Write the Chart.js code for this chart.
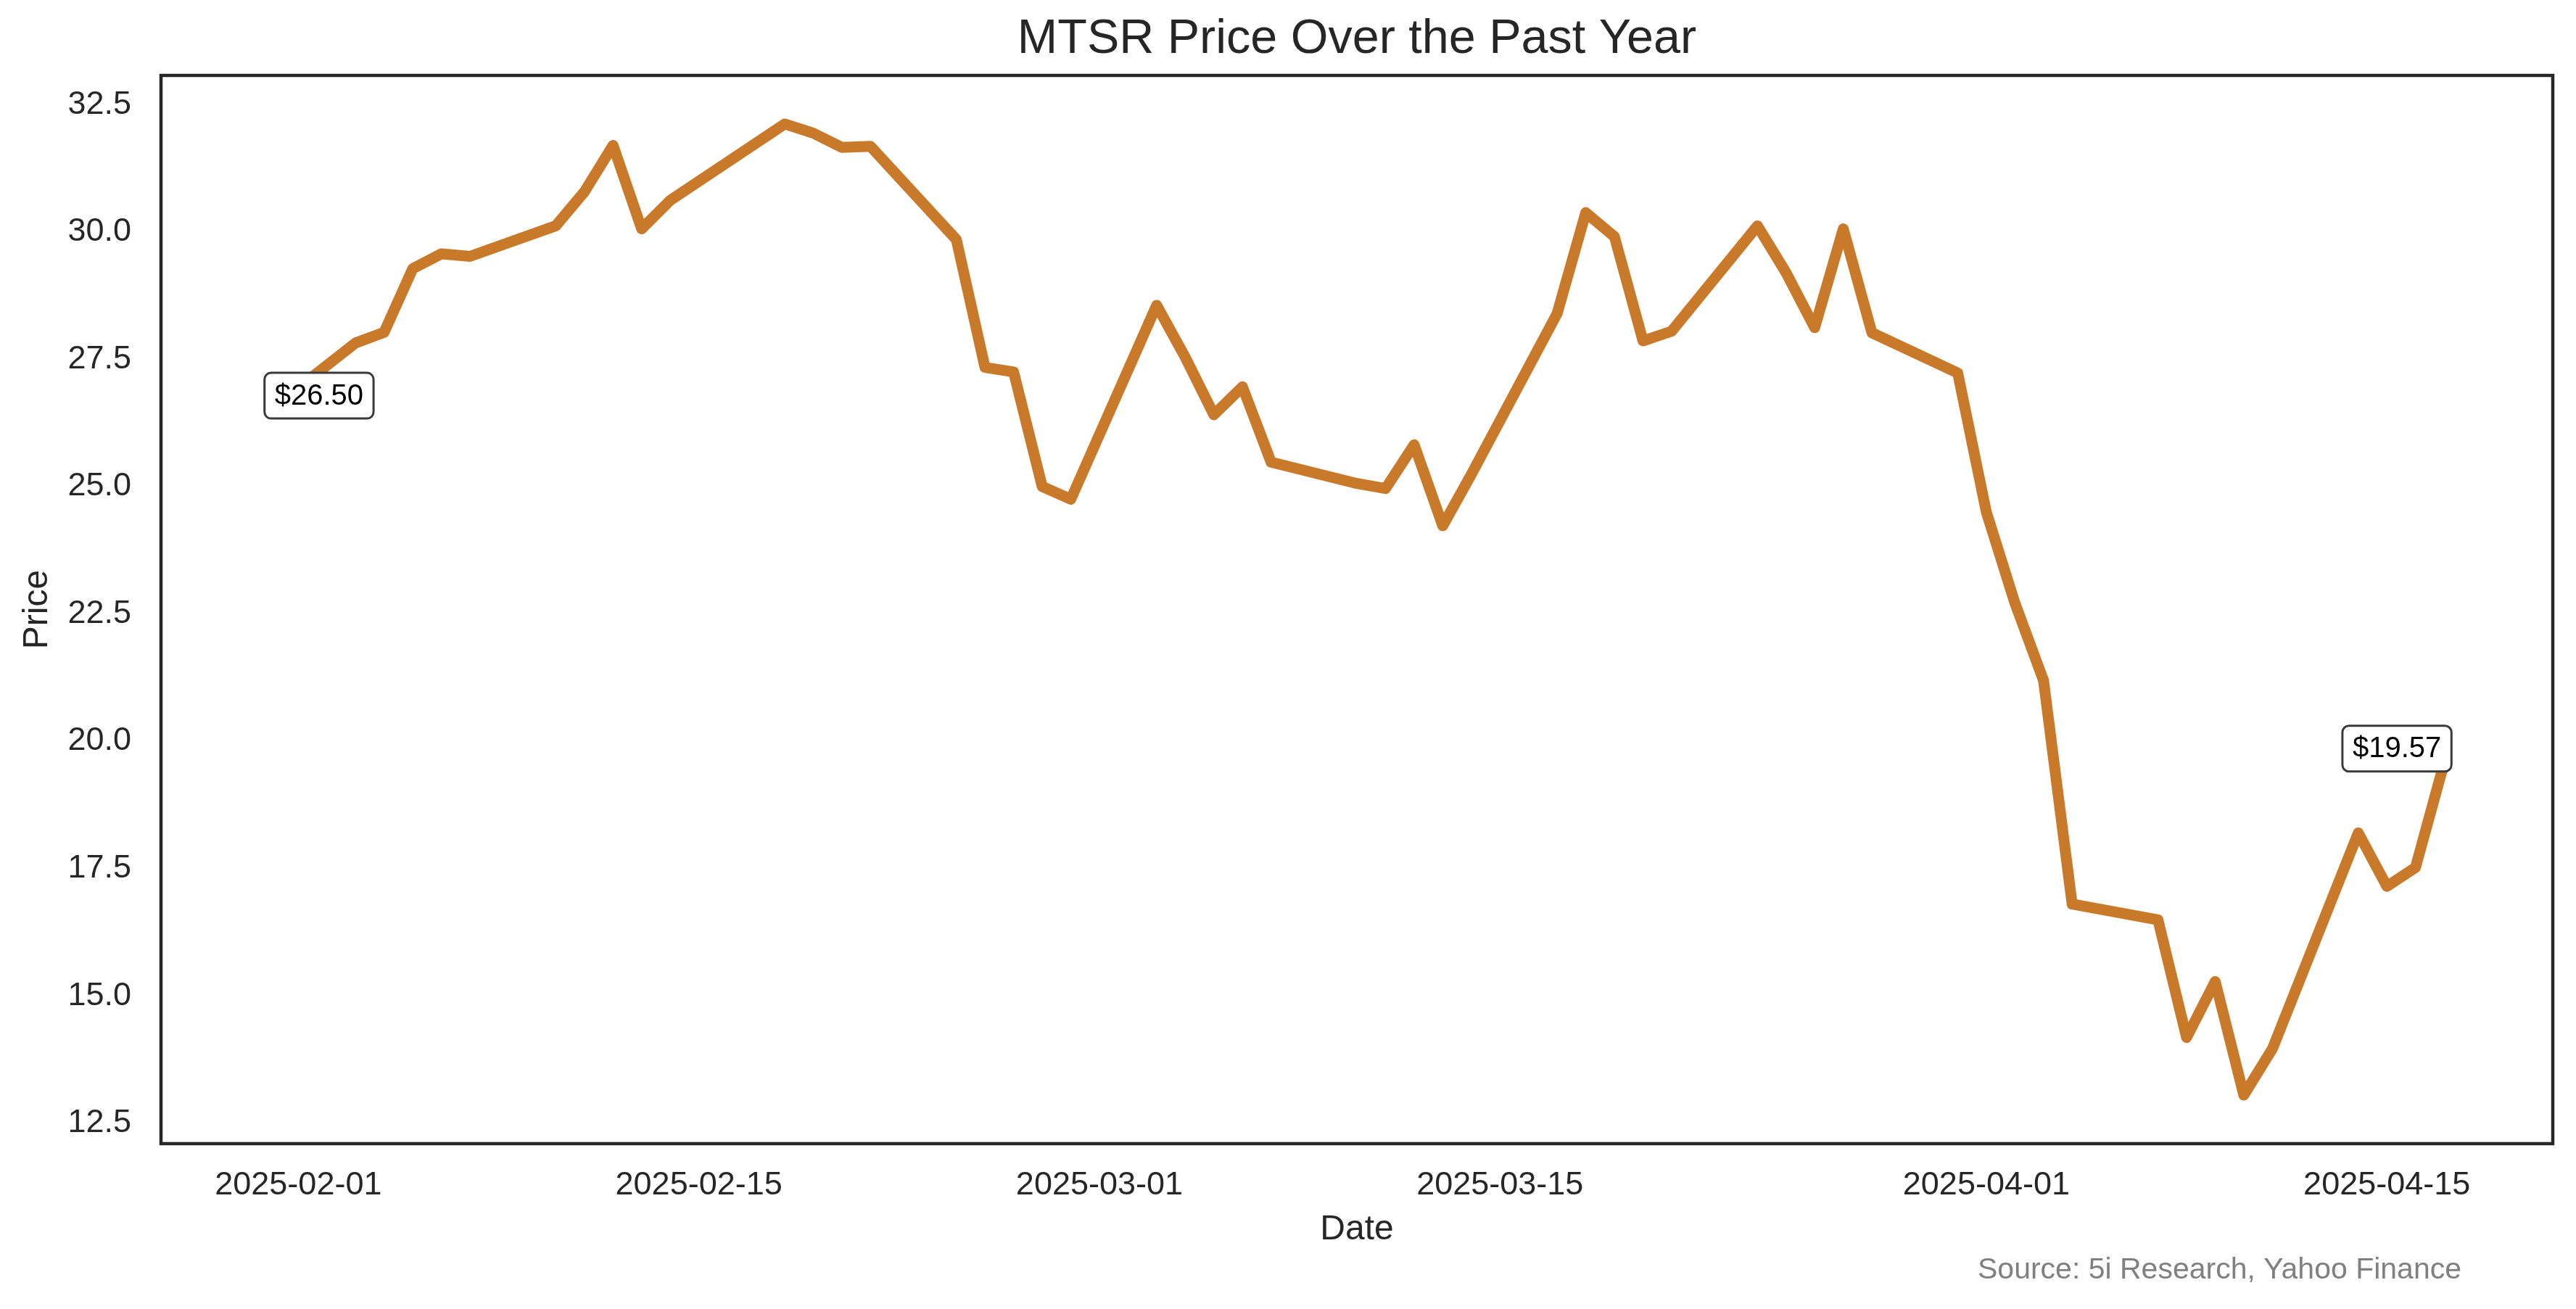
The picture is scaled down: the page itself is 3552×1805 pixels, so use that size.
<!DOCTYPE html>
<html>
<head>
<meta charset="utf-8">
<script src="https://cdn.jsdelivr.net/npm/chart.js@4/dist/chart.umd.min.js"></script>
<style>
  html, body { margin: 0; padding: 0; background: #ffffff; }
  canvas { display: block; }
</style>
</head>
<body>
<canvas id="c" width="3552" height="1805"></canvas>
<script>
// ---- Data ----
const dates = [
  '2025-01-31',
  '2025-02-03','2025-02-04','2025-02-05','2025-02-06','2025-02-07',
  '2025-02-10','2025-02-11','2025-02-12','2025-02-13','2025-02-14',
  '2025-02-18','2025-02-19','2025-02-20','2025-02-21',
  '2025-02-24','2025-02-25','2025-02-26','2025-02-27','2025-02-28',
  '2025-03-03','2025-03-04','2025-03-05','2025-03-06','2025-03-07',
  '2025-03-10','2025-03-11','2025-03-12','2025-03-13','2025-03-14',
  '2025-03-17','2025-03-18','2025-03-19','2025-03-20','2025-03-21',
  '2025-03-24','2025-03-25','2025-03-26','2025-03-27','2025-03-28',
  '2025-03-31',
  '2025-04-01','2025-04-02','2025-04-03','2025-04-04',
  '2025-04-07','2025-04-08','2025-04-09','2025-04-10','2025-04-11',
  '2025-04-14','2025-04-15','2025-04-16','2025-04-17'
];
const prices = [
  26.50,
  27.82, 28.03, 29.28, 29.57, 29.52,
  30.12, 30.79, 31.70, 30.06, 30.62,
  32.12, 31.94, 31.66, 31.68,
  29.85, 27.34, 27.25, 25.00, 24.75,
  28.56, 27.54, 26.41, 26.96, 25.48,
  25.06, 24.96, 25.82, 24.23, 25.24,
  28.40, 30.38, 29.91, 27.86, 28.05,
  30.12, 29.20, 28.12, 30.06, 28.02,
  27.23,
  24.50, 22.71, 21.19, 16.80,
  16.49, 14.18, 15.28, 13.05, 13.96,
  18.20, 17.15, 17.52, 19.57
];
const xTickLabels = ['2025-02-01','2025-02-15','2025-03-01','2025-03-15','2025-04-01','2025-04-15'];
const yTickValues = [12.5, 15.0, 17.5, 20.0, 22.5, 25.0, 27.5, 30.0, 32.5];
const titleText = 'MTSR Price Over the Past Year';
const xTitle = 'Date';
const yTitle = 'Price';
const sourceText = 'Source: 5i Research, Yahoo Finance';

// ---- helpers ----
const DAY = 86400000;
const BASE = Date.UTC(2025, 0, 1);
function toDay(s) {
  const [y, m, d] = s.split('-').map(Number);
  return (Date.UTC(y, m - 1, d) - BASE) / DAY;
}
function fromDay(n) {
  const d = new Date(BASE + Math.round(n) * DAY);
  const p = v => String(v).padStart(2, '0');
  return d.getUTCFullYear() + '-' + p(d.getUTCMonth() + 1) + '-' + p(d.getUTCDate());
}
const xs = dates.map(toDay);
const points = xs.map((x, i) => ({ x: x, y: prices[i] }));

// matplotlib-like 5% margins
const xMinD = Math.min(...xs), xMaxD = Math.max(...xs);
const yMinD = Math.min(...prices), yMaxD = Math.max(...prices);
const xPad = (xMaxD - xMinD) * 0.05, yPad = (yMaxD - yMinD) * 0.05;

const FONT = "'Liberation Sans', Arial, Helvetica, sans-serif";
const INK = '#262626';
Chart.defaults.font.family = FONT;
Chart.defaults.color = INK;

const framePlugin = {
  id: 'frameAndNotes',
  afterDatasetsDraw(chart) {
    const ctx = chart.ctx;
    const a = chart.chartArea;
    ctx.save();
    ctx.strokeStyle = INK;
    ctx.lineWidth = 4.5;
    ctx.strokeRect(a.left, a.top, a.right - a.left, a.bottom - a.top);
    ctx.restore();

    // price annotations at first and last point
    const xsc = chart.scales.x, ysc = chart.scales.y;
    const notes = [
      { i: 0, dx: 68 },
      { i: points.length - 1, dx: -65 }
    ];
    ctx.save();
    ctx.font = '40px ' + FONT;
    notes.forEach(n => {
      const p = points[n.i];
      const px = xsc.getPixelForValue(p.x);
      const py = ysc.getPixelForValue(p.y);
      const label = '$' + p.y.toFixed(2);
      const tw = ctx.measureText(label).width;
      const w = tw + 28, h = 63;
      const cx = px + n.dx, cy = py - 20;
      const bx = cx - w / 2, by = cy - h / 2;
      ctx.beginPath();
      ctx.roundRect(bx, by, w, h, 9);
      ctx.fillStyle = '#ffffff';
      ctx.fill();
      ctx.lineWidth = 3;
      ctx.strokeStyle = '#3a3a3a';
      ctx.stroke();
      ctx.fillStyle = '#000000';
      ctx.textAlign = 'center';
      ctx.textBaseline = 'middle';
      ctx.fillText(label, cx, cy + 1);
    });
    ctx.restore();
  },
  afterDraw(chart) {
    const ctx = chart.ctx;
    ctx.save();
    ctx.font = '41px ' + FONT;
    ctx.fillStyle = '#808080';
    ctx.textAlign = 'right';
    ctx.textBaseline = 'alphabetic';
    ctx.fillText(sourceText, 3394, 1763);
    ctx.restore();
  }
};

new Chart(document.getElementById('c'), {
  type: 'line',
  data: {
    datasets: [{
      label: 'MTSR',
      data: points,
      borderColor: '#C87A2A',
      backgroundColor: '#C87A2A',
      borderWidth: 15,
      pointRadius: 0,
      pointHoverRadius: 0,
      tension: 0,
      fill: false,
      borderJoinStyle: 'round',
      borderCapStyle: 'butt'
    }]
  },
  options: {
    responsive: false,
    devicePixelRatio: 1,
    animation: false,
    events: [],
    layout: { padding: { top: 0, left: 0, right: 32, bottom: 0 } },
    plugins: {
      legend: { display: false },
      tooltip: { enabled: false },
      title: {
        display: true,
        fullSize: false,
        text: titleText,
        color: INK,
        font: { size: 66.5, weight: 'normal', family: FONT, lineHeight: 1.2 },
        padding: { top: 15, bottom: 9.2 }
      }
    },
    scales: {
      x: {
        type: 'linear',
        min: xMinD - xPad,
        max: xMaxD + xPad,
        afterFit(s) { s.height = 228; },
        afterBuildTicks(s) { s.ticks = xTickLabels.map(t => ({ value: toDay(t) })); },
        grid: { display: false, drawTicks: false },
        border: { display: false },
        ticks: {
          autoSkip: false,
          maxRotation: 0,
          minRotation: 0,
          padding: 31,
          color: INK,
          font: { size: 45 },
          callback: v => fromDay(v)
        },
        title: {
          display: true,
          text: xTitle,
          color: INK,
          font: { size: 48 },
          padding: { top: 0, bottom: 80 }
        }
      },
      y: {
        type: 'linear',
        min: yMinD - yPad,
        max: yMaxD + yPad,
        afterFit(s) { s.width = 222; },
        afterBuildTicks(s) { s.ticks = yTickValues.map(v => ({ value: v })); },
        grid: { display: false, drawTicks: false },
        border: { display: false },
        ticks: {
          padding: 41,
          color: INK,
          font: { size: 45 },
          callback: v => Number(v).toFixed(1)
        },
        title: {
          display: true,
          text: yTitle,
          color: INK,
          font: { size: 48 },
          padding: { top: 23, bottom: 0 }
        }
      }
    }
  },
  plugins: [framePlugin]
});
</script>
</body>
</html>
